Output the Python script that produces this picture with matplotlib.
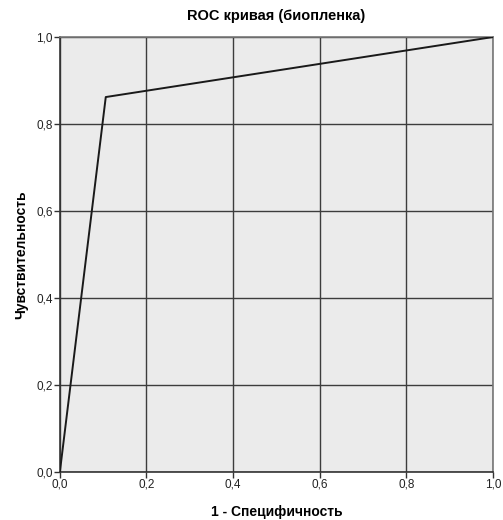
import matplotlib
matplotlib.use("Agg")
import matplotlib.pyplot as plt
from matplotlib.ticker import FuncFormatter

plt.rcParams["font.family"] = ["Liberation Sans", "DejaVu Sans"]

# ROC curve points
fpr = [0.0, 0.106, 1.0]
tpr = [0.0, 0.862, 1.0]
ticks = [0.0, 0.2, 0.4, 0.6, 0.8, 1.0]

fig = plt.figure(figsize=(5.03, 5.2), dpi=100)
ax = fig.add_axes([0.119, 0.0923, 0.861, 0.8365])
ax.set_facecolor("#ebebeb")

ax.plot(fpr, tpr, color="#1a1a1a", linewidth=1.4, zorder=3)

ax.set_xlim(0, 1)
ax.set_ylim(0, 1)
ax.set_xticks(ticks)
ax.set_yticks(ticks)
fmt = FuncFormatter(lambda v, p: f"{v:.1f}".replace(".", ","))
ax.xaxis.set_major_formatter(fmt)
ax.yaxis.set_major_formatter(fmt)
ax.grid(True, color="#3c3c3c", linewidth=1.0, zorder=1)
ax.set_axisbelow(True)
for s in ax.spines.values():
    s.set_color("#777777")
    s.set_linewidth(1.2)
ax.spines["left"].set_color("#333333")
ax.spines["bottom"].set_color("#333333")
ax.tick_params(direction="out", length=4, width=1, color="#333333",
               labelsize=8.5, labelcolor="#222222", pad=1)

ax.set_title("ROC кривая (биопленка)", fontsize=10.5, fontweight="bold", pad=12)
ax.set_xlabel("1 - Специфичность", fontsize=10, fontweight="bold", labelpad=10)
ax.set_ylabel("Чувствительность", fontsize=10, fontweight="bold", labelpad=6)

fig.savefig("out.png", dpi=100)
